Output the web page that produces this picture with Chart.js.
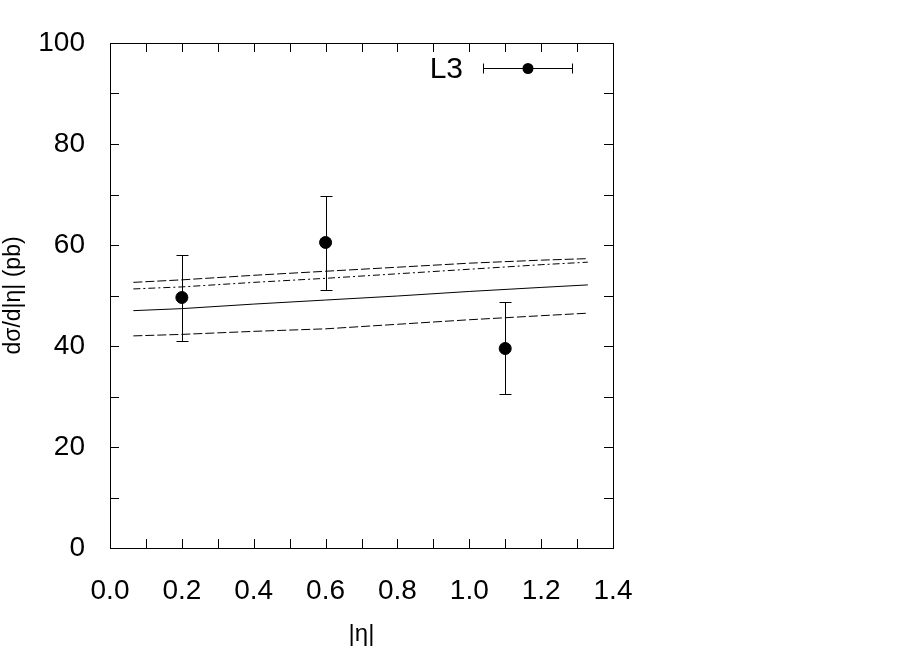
<!DOCTYPE html>
<html>
<head>
<meta charset="utf-8">
<script src="https://cdn.jsdelivr.net/npm/chart.js@4.4.1/dist/chart.umd.min.js"></script>
<style>
  body { margin: 0; background: #fff; }
  #wrap { width: 924px; height: 649px; }
</style>
</head>
<body>
<div id="wrap"><canvas id="c" width="924" height="649"></canvas></div>
<script>
// L3 measurements
var l3Eta = [0.2, 0.6, 1.1];
var l3Val = [49.6, 60.5, 39.5];
var l3Hi  = [58.0, 69.7, 48.7];
var l3Lo  = [41.0, 51.1, 30.5];

// theory curves
var curveEta   = [0.065, 0.2, 0.4, 0.6, 0.8, 1.0, 1.2, 1.33];
var upperDash  = [52.6, 53.1, 54.0, 54.8, 55.6, 56.4, 57.0, 57.3];
var dashDot    = [51.3, 51.7, 52.6, 53.4, 54.3, 55.2, 56.1, 56.6];
var central    = [47.0, 47.4, 48.3, 49.1, 49.9, 50.8, 51.6, 52.1];
var lowerDash  = [42.0, 42.3, 42.9, 43.4, 44.3, 45.2, 46.0, 46.5];

var xTicks = [0.0, 0.2, 0.4, 0.6, 0.8, 1.0, 1.2, 1.4];
var yTicks = [0, 20, 40, 60, 80, 100];

function pts(xs, ys) {
  return xs.map(function (x, i) { return { x: x, y: ys[i] }; });
}

function curve(ys, dash) {
  return {
    type: 'line', data: pts(curveEta, ys), borderColor: '#000', borderWidth: 1,
    borderDash: dash, pointRadius: 0, fill: false, tension: 0
  };
}

var font = "'Liberation Sans', Arial, sans-serif";

// inward ticks on all four sides + error bars + legend
var extras = {
  id: 'extras',
  afterDatasetsDraw: function (chart) {
    var ctx = chart.ctx, a = chart.chartArea;
    var xs = chart.scales.x, ys = chart.scales.y;
    ctx.save();
    ctx.strokeStyle = '#000';
    ctx.lineWidth = 1;
    ctx.beginPath();
    for (var v = 1; v < 14; v++) {
      var px = Math.round(xs.getPixelForValue(v / 10)) + 0.5;
      ctx.moveTo(px, a.bottom); ctx.lineTo(px, a.bottom - 9);
      ctx.moveTo(px, a.top); ctx.lineTo(px, a.top + 9);
    }
    for (var w = 1; w < 10; w++) {
      var py = Math.round(ys.getPixelForValue(w * 10)) + 0.5;
      ctx.moveTo(a.left, py); ctx.lineTo(a.left + 9, py);
      ctx.moveTo(a.right, py); ctx.lineTo(a.right - 9, py);
    }
    ctx.stroke();

    // error bars
    ctx.beginPath();
    l3Eta.forEach(function (e, i) {
      var px = Math.round(xs.getPixelForValue(e)) + 0.5;
      var top = ys.getPixelForValue(l3Hi[i]), bot = ys.getPixelForValue(l3Lo[i]);
      ctx.moveTo(px, top); ctx.lineTo(px, bot);
      ctx.moveTo(px - 6, Math.round(top) + 0.5); ctx.lineTo(px + 6, Math.round(top) + 0.5);
      ctx.moveTo(px - 6, Math.round(bot) + 0.5); ctx.lineTo(px + 6, Math.round(bot) + 0.5);
    });
    ctx.stroke();

    // legend
    var lx0 = a.left + 373, lx1 = a.left + 463, ly = a.top + 25.5;
    ctx.beginPath();
    ctx.moveTo(lx0, ly); ctx.lineTo(lx1, ly);
    ctx.moveTo(lx0 + 0.5, ly - 5); ctx.lineTo(lx0 + 0.5, ly + 5);
    ctx.moveTo(lx1 - 0.5, ly - 5); ctx.lineTo(lx1 - 0.5, ly + 5);
    ctx.stroke();
    ctx.fillStyle = '#000';
    ctx.beginPath();
    ctx.arc((lx0 + lx1) / 2, ly, 5.5, 0, Math.PI * 2);
    ctx.fill();
    ctx.font = '30px ' + font;
    ctx.textAlign = 'right';
    ctx.textBaseline = 'middle';
    ctx.fillText('L3', a.left + 353, ly + 1);
    ctx.restore();
  }
};

new Chart(document.getElementById('c'), {
  type: 'scatter',
  data: {
    datasets: [
      curve(upperDash, [9, 3]),
      curve(dashDot, [7, 3, 2, 3]),
      curve(central, []),
      curve(lowerDash, [9, 3]),
      {
        type: 'scatter', data: pts(l3Eta, l3Val), backgroundColor: '#000',
        borderColor: '#000', pointRadius: 6, pointHoverRadius: 6
      }
    ]
  },
  options: {
    responsive: false,
    animation: false,
    events: [],
    layout: { padding: { left: 0, top: 43, right: 311, bottom: 0 } },
    plugins: { legend: { display: false }, tooltip: { enabled: false } },
    scales: {
      x: {
        type: 'linear', min: 0, max: 1.4,
        afterBuildTicks: function (s) { s.ticks = xTicks.map(function (v) { return { value: v }; }); },
        afterFit: function (s) { s.height = 101; },
        grid: { display: false },
        border: { display: true, color: '#000', width: 1 },
        ticks: {
          color: '#000', padding: 18, maxRotation: 0, autoSkip: false,
          font: { family: font, size: 28 },
          callback: function (v) { return v.toFixed(1); }
        },
        title: {
          display: true, text: '|η|', color: '#000', padding: { top: 8, bottom: 0 },
          font: { family: font, size: 24 }
        }
      },
      y: {
        type: 'linear', min: 0, max: 100,
        afterBuildTicks: function (s) { s.ticks = yTicks.map(function (v) { return { value: v }; }); },
        afterFit: function (s) { s.width = 110; },
        grid: { display: false },
        border: { display: true, color: '#000', width: 1 },
        ticks: {
          color: '#000', padding: 17, font: { family: font, size: 28 }
        },
        title: {
          display: true, text: 'dσ/d|η| (pb)', color: '#000', padding: { top: 0, bottom: 0 },
          font: { family: font, size: 23 }
        }
      }
    }
  },
  plugins: [extras, {
    id: 'frame',
    afterDraw: function (chart) {
      var ctx = chart.ctx, a = chart.chartArea;
      ctx.save();
      ctx.strokeStyle = '#000';
      ctx.lineWidth = 1;
      ctx.strokeRect(Math.round(a.left) + 0.5, Math.round(a.top) + 0.5,
        Math.round(a.right - a.left), Math.round(a.bottom - a.top));
      ctx.restore();
    }
  }]
});
</script>
</body>
</html>
